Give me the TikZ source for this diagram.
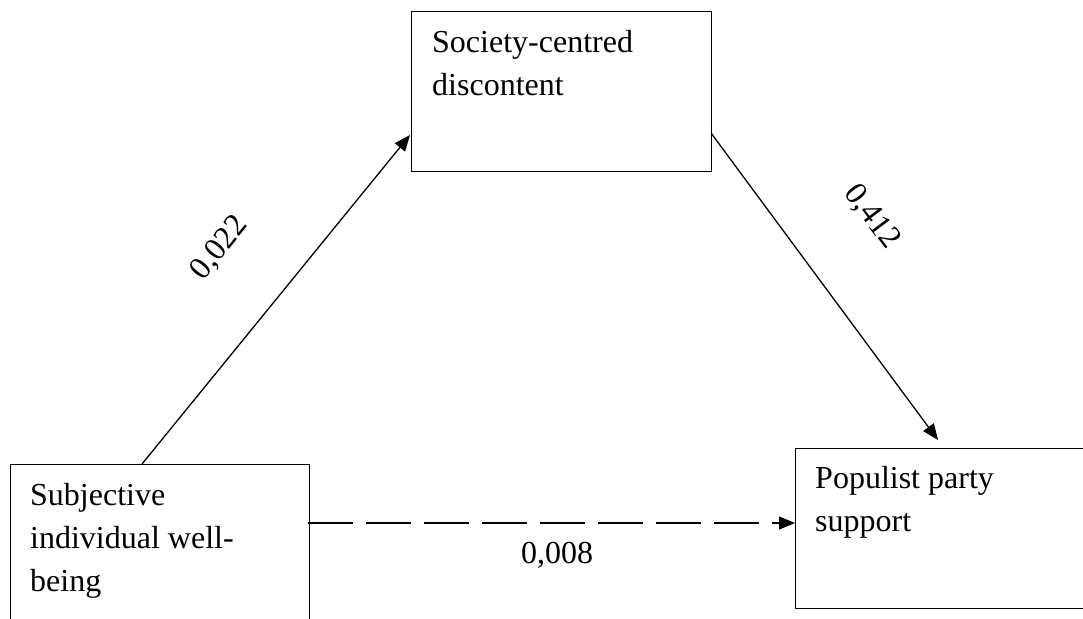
\documentclass[tikz,border=0pt]{standalone}
\usepackage{fontspec}
\setmainfont{Liberation Serif}
\usetikzlibrary{arrows.meta}
\begin{document}
\begin{tikzpicture}[x=1pt,y=-1pt,
  box/.style={draw, line width=1.3pt, rectangle, inner sep=0pt, anchor=north west},
  txt/.style={anchor=north west, inner sep=0pt, align=left, font=\fontsize{32}{43}\selectfont},
  lbl/.style={inner sep=0pt, font=\fontsize{32}{36}\selectfont},
  conn/.style={line width=1.3pt, -{Triangle[length=16pt,width=13pt]}}]
\clip (0,0) rectangle (1083,618);
\fill[white] (0,0) rectangle (1083,618);
% boxes
\node[box, minimum width=300pt, minimum height=160pt] (top) at (411,11) {};
\node[box, minimum width=299pt, minimum height=200pt] (left) at (9.5,464) {};
\node[box, minimum width=300pt, minimum height=160pt] (right) at (795,448) {};
% texts
\node[txt] (ttop) at (432,30) {Society-centred\\discontent};
\node[txt] (tleft) at (30,483) {Subjective\\individual well-\\being};
\node[txt] (tright) at (815,466) {Populist party\\support};
% connectors
\coordinate (a1s) at (142,464);
\coordinate (a1e) at (410,135);
\coordinate (a2s) at (711,133);
\coordinate (a2e) at (938,440);
\coordinate (a3s) at (308,523);
\coordinate (a3e) at (795,523);
\draw[conn] (a1s) -- (a1e);
\draw[conn] (a2s) -- (a2e);
\draw[conn, dash pattern=on 45pt off 13pt] (a3s) -- (a3e);
% labels
\node[lbl, rotate=51] (l1) at (220,248) {0,022};
\node[lbl, rotate=-53] (l2) at (872,217) {0,412};
\node[lbl] (l3) at (557,555) {0,008};
\end{tikzpicture}
\end{document}
